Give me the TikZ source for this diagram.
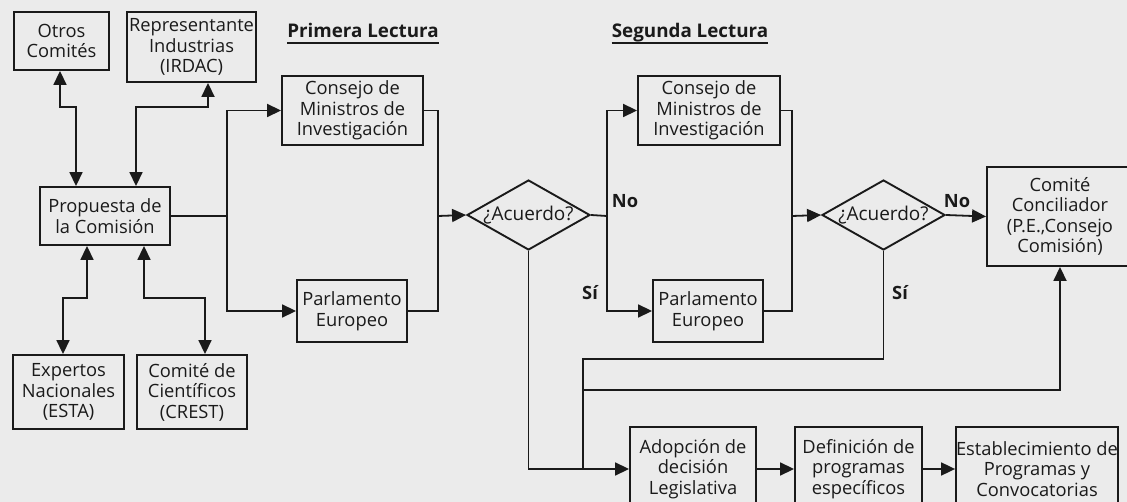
\documentclass[tikz,border=0pt]{standalone}
\usepackage{fontspec}
\setmainfont{Open Sans}
\usetikzlibrary{arrows.meta,shapes.geometric}
\definecolor{ink}{HTML}{1A1A1A}
\definecolor{bg}{HTML}{EBEBEB}
\begin{document}
\begin{tikzpicture}[x=1pt,y=-1pt,
  box/.style={draw=ink,line width=1.9pt,align=center,inner sep=0pt,font=\fontsize{18.3}{20.5}\selectfont,text=ink},
  dia/.style={draw=ink,line width=1.9pt,diamond,inner sep=0pt,minimum width=123pt,minimum height=70pt,
     label={[font=\fontsize{19}{21}\selectfont,text=ink]center:¿Acuerdo?}},
  conn/.style={draw=ink,line width=1.8pt},
  arr/.style={conn,-{Triangle[length=14pt,width=13pt]}},
  darr/.style={conn,{Triangle[length=14pt,width=13pt]}-{Triangle[length=14pt,width=13pt]}},
  lab/.style={font=\bfseries\fontsize{18.3}{21}\selectfont,text=ink,inner sep=0pt},
  head/.style={font=\bfseries\fontsize{18.8}{21}\selectfont,text=ink,inner sep=0pt,anchor=base},
  uline/.style={draw=ink,line width=1.4pt}]
\useasboundingbox (0,0) rectangle (1127,502);
\clip (0,0) rectangle (1127,502);
\fill[bg] (0,0) rectangle (1127,502);

% headings
\node[head] (h1) at (363,38) {Primera Lectura};
\node[head] (h2) at (690,38) {Segunda Lectura};
\draw[uline] ([yshift=-5pt]h1.base west) -- ([yshift=-5pt]h1.base east);
\draw[uline] ([yshift=-5pt]h2.base west) -- ([yshift=-5pt]h2.base east);

% boxes
\node[box,minimum width=95pt,minimum height=58pt] (ot) at (61.5,41) {Otros\\Comités};
\node[box,minimum width=129pt,minimum height=70pt] (rep) at (191.5,47) {Representante\\Industrias\\(IRDAC)};
\node[box,minimum width=130pt,minimum height=58pt] (pr) at (105,216) {Propuesta de\\la Comisión};
\node[box,minimum width=111pt,minimum height=74pt] (exp) at (68.5,392) {Expertos\\Nacionales\\(ESTA)};
\node[box,minimum width=110pt,minimum height=74pt] (cie) at (192,392) {Comité de\\Científicos\\(CREST)};
\node[box,minimum width=141pt,minimum height=69pt] (con1) at (352.5,110.5) {Consejo de\\Ministros de\\Investigación};
\node[box,minimum width=110pt,minimum height=62pt] (par1) at (352,311) {Parlamento\\Europeo};
\node[dia] (d1) at (528.5,215) {};
\node[box,minimum width=142pt,minimum height=69pt] (con2) at (709,110.5) {Consejo de\\Ministros de\\Investigación};
\node[box,minimum width=110pt,minimum height=62pt] (par2) at (708,311) {Parlamento\\Europeo};
\node[dia] (d2) at (883.5,215) {};
\node[box,minimum width=146pt,minimum height=99pt] (cc) at (1060,216.5) {Comité\\Conciliador\\(P.E.,Consejo\\Comisión)};
\node[box,minimum width=126pt,minimum height=84pt] (ad) at (693,469) {Adopción de\\decisión\\Legislativa};
\node[box,minimum width=127pt,minimum height=84pt] (def) at (858.5,469) {Definición de\\programas\\específicos};
\node[box,minimum width=160pt,minimum height=84pt] (est) at (1037,469) {Establecimiento de\\Programas y\\Convocatorias};

% labels
\node[lab] (no1) at (625,201) {No};
\node[lab] (si1) at (590,293) {Sí};
\node[lab] (no2) at (957,201) {No};
\node[lab] (si2) at (900,293) {Sí};

% helper coordinates
\coordinate (xa) at (60,0);
\coordinate (xb) at (76,0);
\coordinate (xc) at (208,0);
\coordinate (xd) at (136,0);
\coordinate (ya) at (0,107);
\coordinate (xe) at (87,0);
\coordinate (xf) at (63,0);
\coordinate (xg) at (144,0);
\coordinate (xh) at (205,0);
\coordinate (yb) at (0,298);
\coordinate (j1) at (227,216);
\coordinate (j2) at (438,216);
\coordinate (j3) at (607,216);
\coordinate (j4) at (792,216);
\coordinate (k1) at (583,359);
\coordinate (k2) at (583,390);

% consultation links
\draw[darr] (ot.south -| xa) -- (xa |- ya) -| (xb |- pr.north);
\draw[darr] (rep.south -| xc) -- (xc |- ya) -| (xd |- pr.north);
\draw[darr] (pr.south -| xe) -- (xe |- yb) -| (xf |- exp.north);
\draw[darr] (pr.south -| xg) -- (xg |- yb) -| (xh |- cie.north);

% first reading
\draw[conn] (pr.east) -- (j1);
\draw[arr] (j1) |- (con1.west);
\draw[arr] (j1) |- (par1.west);
\draw[conn] (con1.east) -| (j2);
\draw[conn] (par1.east) -| (j2);
\draw[arr] (j2) -- (d1.west);

% second reading
\draw[conn] (d1.east) -- (j3);
\draw[arr] (j3) |- (con2.west);
\draw[arr] (j3) |- (par2.west);
\draw[conn] (con2.east) -| (j4);
\draw[conn] (par2.east) -| (j4);
\draw[arr] (j4) -- (d2.west);
\draw[arr] (d2.east) -- (cc.west);

% adoption
\draw[arr] (d1.south) |- (ad.west);
\draw[conn] (d2.south) |- (k1) -- (k1 |- ad.west);
\draw[arr] (k2) -| (cc.south);
\draw[arr] (ad.east) -- (def.west);
\draw[arr] (def.east) -- (est.west);
\end{tikzpicture}
\end{document}
